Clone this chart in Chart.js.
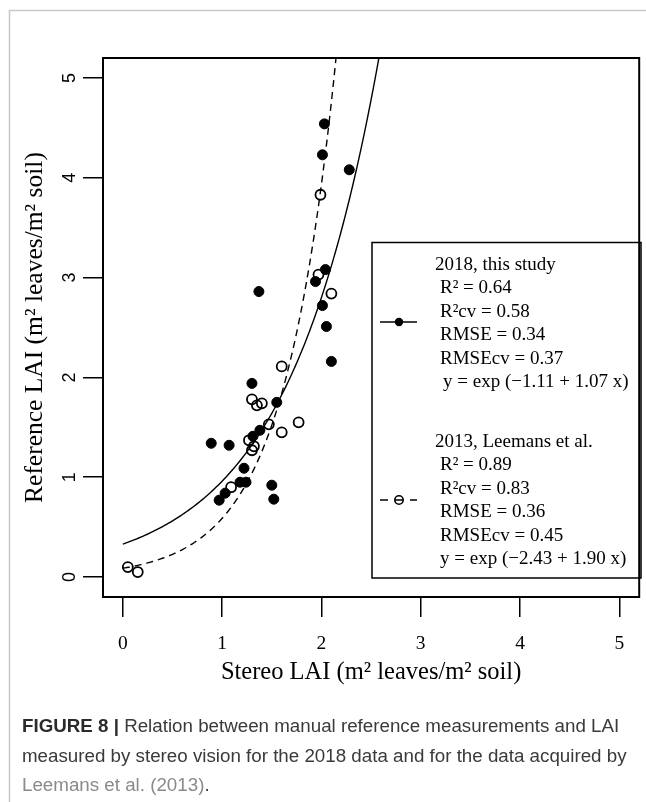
<!DOCTYPE html>
<html><head><meta charset="utf-8">
<script src="https://cdn.jsdelivr.net/npm/chart.js@4.4.1/dist/chart.umd.min.js"></script>
<style>html,body{margin:0;padding:0;background:#fff;overflow:hidden}canvas{display:block}</style>
</head><body>
<canvas id="c" width="646" height="802"></canvas>
<script>
// ---- data ----
const xTicks = [0, 1, 2, 3, 4, 5];
const yTicks = [0, 1, 2, 3, 4, 5];
const stereo2018 = [2.03, 2.01, 2.28, 2.04, 1.94, 1.37, 2.01, 2.05, 2.10, 1.30, 1.55, 1.38, 1.31, 0.89, 1.07, 1.22, 1.18, 1.24, 1.50, 1.03, 0.97, 1.52];
const ref2018    = [4.54, 4.23, 4.08, 3.08, 2.96, 2.86, 2.72, 2.51, 2.16, 1.94, 1.75, 1.47, 1.41, 1.34, 1.32, 1.09, 0.95, 0.95, 0.92, 0.84, 0.77, 0.78];
const stereo2013 = [1.99, 1.97, 2.10, 1.60, 1.30, 1.35, 1.40, 1.47, 1.77, 1.60, 1.27, 1.32, 1.30, 1.09, 0.05, 0.15];
const ref2013    = [3.83, 3.03, 2.84, 2.11, 1.78, 1.72, 1.74, 1.53, 1.55, 1.45, 1.37, 1.31, 1.27, 0.90, 0.10, 0.05];
const seriesNames = ['2018, this study', '2013, Leemans et al.'];
const fitIntercepts = [-1.11, -2.43];
const fitSlopes = [1.07, 1.90];
const stats2018 = ['R\u00b2 = 0.64', 'R\u00b2cv = 0.58', 'RMSE = 0.34', 'RMSEcv = 0.37', 'y = exp (\u22121.11 + 1.07 x)'];
const stats2013 = ['R\u00b2 = 0.89', 'R\u00b2cv = 0.83', 'RMSE = 0.36', 'RMSEcv = 0.45', 'y = exp (\u22122.43 + 1.90 x)'];
const xTitle = 'Stereo LAI (m\u00b2 leaves/m\u00b2 soil)';
const yTitle = 'Reference LAI (m\u00b2 leaves/m\u00b2 soil)';
const captionBold = 'FIGURE 8 |';
const captionLine1 = ' Relation between manual reference measurements and LAI';
const captionLine2 = 'measured by stereo vision for the 2018 data and for the data acquired by';
const captionRef = 'Leemans et al. (2013)';

// fitted curves evaluated from the stated equations
function fitCurve(i) {
  const pts = [];
  for (let k = 0; k <= 130; k++) {
    const x = k * 0.02;
    pts.push({x: x, y: Math.exp(fitIntercepts[i] + fitSlopes[i] * x)});
  }
  return pts;
}
const pts2018 = stereo2018.map((x, i) => ({x: x, y: ref2018[i]}));
const pts2013 = stereo2013.map((x, i) => ({x: x, y: ref2013[i]}));

const SERIF = '"Liberation Serif", "Times New Roman", serif';
const SANS = '"Liberation Sans", Arial, sans-serif';

const decor = {
  id: 'decor',
  beforeDraw(chart) {
    const ctx = chart.ctx;
    ctx.save();
    ctx.fillStyle = '#fff';
    ctx.fillRect(0, 0, chart.width, chart.height);
    ctx.strokeStyle = '#c8c8c8';
    ctx.lineWidth = 1.5;
    ctx.beginPath();
    ctx.moveTo(9.5, chart.height + 2);
    ctx.lineTo(9.5, 10.5);
    ctx.lineTo(chart.width + 2, 10.5);
    ctx.stroke();
    ctx.restore();
  },
  afterDraw(chart) {
    const ctx = chart.ctx;
    const ca = chart.chartArea;
    ctx.save();
    // plot box
    ctx.strokeStyle = '#000';
    ctx.lineWidth = 2;
    ctx.strokeRect(ca.left, ca.top, ca.right - ca.left, ca.bottom - ca.top);
    // y tick labels (rotated like R)
    const ys = chart.scales.y;
    ctx.fillStyle = '#000';
    ctx.font = '18px ' + SANS;
    ctx.textAlign = 'center';
    ctx.textBaseline = 'middle';
    ys.ticks.forEach(t => {
      const py = ys.getPixelForValue(t.value);
      ctx.save();
      ctx.translate(69, py);
      ctx.rotate(-Math.PI / 2);
      ctx.fillText(String(t.value), 0, 1);
      ctx.restore();
    });
    // legend box
    ctx.lineWidth = 1.5;
    ctx.strokeRect(372, 242.5, 269, 335.5);
    ctx.font = '19px ' + SERIF;
    ctx.textAlign = 'left';
    ctx.textBaseline = 'middle';
    const lh = 23.5;
    ctx.fillText(seriesNames[0], 435, 265);
    stats2018.forEach((s, i) => ctx.fillText(s, i === 4 ? 443 : 440, 265 + lh * (i + 1)));
    ctx.fillText(seriesNames[1], 435, 442);
    stats2013.forEach((s, i) => ctx.fillText(s, 440, 442 + lh * (i + 1)));
    // legend symbols
    ctx.lineWidth = 1.5;
    ctx.beginPath(); ctx.moveTo(380, 322); ctx.lineTo(417, 322); ctx.stroke();
    ctx.beginPath(); ctx.arc(399, 322, 4.2, 0, Math.PI * 2); ctx.fill();
    ctx.beginPath();
    ctx.moveTo(380, 500); ctx.lineTo(388, 500);
    ctx.moveTo(395, 500); ctx.lineTo(403, 500);
    ctx.moveTo(410, 500); ctx.lineTo(417, 500);
    ctx.stroke();
    ctx.lineWidth = 1.6;
    ctx.beginPath(); ctx.arc(399, 500, 4.2, 0, Math.PI * 2); ctx.stroke();
    // caption
    const target = 605;
    ctx.font = '100px ' + SANS;
    const w2 = ctx.measureText(captionLine2).width;
    const fs = 100 * target / w2;
    const x0 = 22;
    ctx.textBaseline = 'middle';
    ctx.font = 'bold ' + fs + 'px ' + SANS;
    ctx.fillStyle = '#2b2b2b';
    ctx.fillText(captionBold, x0, 727);
    const wb = ctx.measureText(captionBold).width;
    ctx.font = fs + 'px ' + SANS;
    ctx.fillStyle = '#3a3a3a';
    ctx.fillText(captionLine1, x0 + wb, 727);
    ctx.fillText(captionLine2, x0, 757);
    ctx.fillStyle = '#8a8a8a';
    ctx.fillText(captionRef, x0, 786);
    const wr = ctx.measureText(captionRef).width;
    ctx.fillStyle = '#3a3a3a';
    ctx.fillText('.', x0 + wr, 786);
    ctx.restore();
  }
};

new Chart(document.getElementById('c'), {
  type: 'scatter',
  data: {
    datasets: [
      {label: seriesNames[0] + ' fit', data: fitCurve(0), showLine: true, borderColor: '#000', borderWidth: 1.4, pointRadius: 0, fill: false, tension: 0},
      {label: seriesNames[1] + ' fit', data: fitCurve(1), showLine: true, borderColor: '#000', borderWidth: 1.4, borderDash: [7, 5], pointRadius: 0, fill: false, tension: 0},
      {label: seriesNames[0], data: pts2018, pointRadius: 5, pointBackgroundColor: '#000', pointBorderColor: '#000', pointBorderWidth: 1},
      {label: seriesNames[1], data: pts2013, pointRadius: 5, pointBackgroundColor: 'rgba(0,0,0,0)', pointBorderColor: '#000', pointBorderWidth: 1.8}
    ]
  },
  options: {
    responsive: false,
    animation: false,
    devicePixelRatio: 1,
    layout: {padding: {left: 0, right: 4, top: 58, bottom: 105}},
    plugins: {legend: {display: false}, tooltip: {enabled: false}},
    scales: {
      x: {
        type: 'linear', position: 'bottom', min: -0.2, max: 5.2,
        afterBuildTicks: s => { s.ticks = xTicks.map(v => ({value: v})); },
        afterFit: s => { s.height = 100; },
        ticks: {color: '#000', font: {family: SERIF, size: 19.5}, padding: 15, maxRotation: 0},
        grid: {display: true, drawOnChartArea: false, drawTicks: true, tickLength: 20, color: '#000', lineWidth: 1.5},
        border: {display: false},
        title: {display: true, text: xTitle, color: '#000', font: {family: SERIF, size: 24.5}, padding: {top: 0, bottom: 10}}
      },
      y: {
        type: 'linear', position: 'left', min: -0.2, max: 5.2,
        afterBuildTicks: s => { s.ticks = yTicks.map(v => ({value: v})); },
        afterFit: s => { s.width = 103; },
        ticks: {display: false},
        grid: {display: true, drawOnChartArea: false, drawTicks: true, tickLength: 20, color: '#000', lineWidth: 1.5},
        border: {display: false},
        title: {display: true, text: yTitle, color: '#000', font: {family: SERIF, size: 25.5}, padding: {top: 20, bottom: 0}}
      }
    }
  },
  plugins: [decor]
});
</script>
</body></html>
